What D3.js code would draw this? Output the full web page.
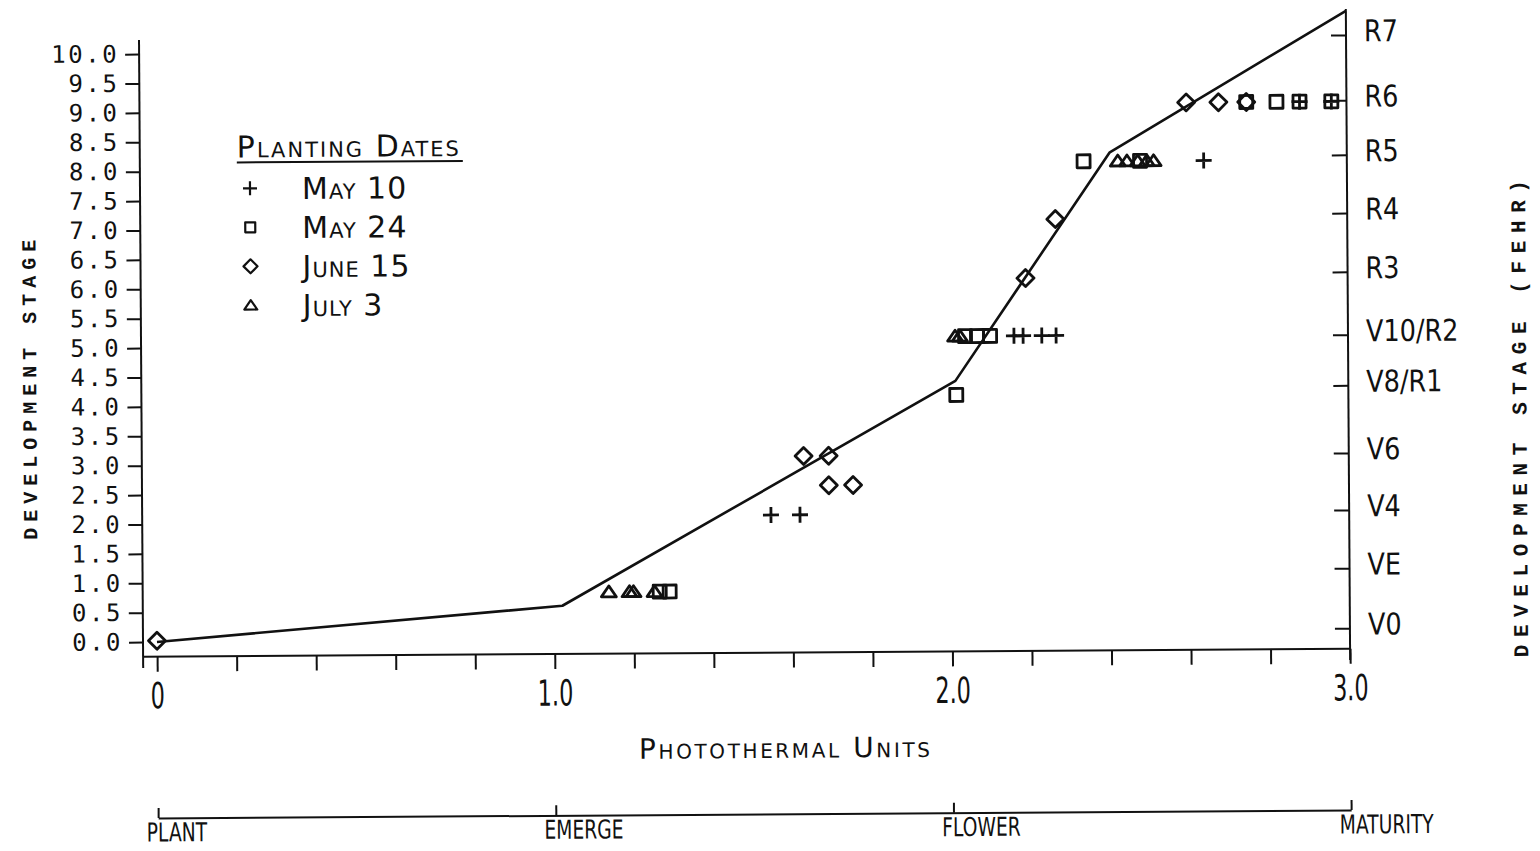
<!DOCTYPE html>
<html>
<head>
<meta charset="utf-8">
<script src="https://cdn.jsdelivr.net/npm/d3@7"></script>
<style>
  html, body { margin: 0; padding: 0; background: #fff; }
  svg { display: block; }
</style>
</head>
<body>
<svg id="chart" width="1540" height="851"></svg>
<script>
// ---- axis ticks and labels ----
const leftTicks = [0, 0.5, 1, 1.5, 2, 2.5, 3, 3.5, 4, 4.5, 5, 5.5, 6, 6.5, 7, 7.5, 8, 8.5, 9, 9.5, 10];
const xMinorTicks = [0, 0.2, 0.4, 0.6, 0.8, 1.0, 1.2, 1.4, 1.6, 1.8, 2.0, 2.2, 2.4, 2.6, 2.8, 3.0];
const xMajorTicks = [0, 1, 2, 3];
const xMajorLabels = ["0", "1.0", "2.0", "3.0"];
const fehrValues = [0.10, 1.12, 2.11, 3.08, 4.23, 5.09, 6.16, 7.16, 8.15, 9.08, 10.19];
const fehrLabels = ["V0", "VE", "V4", "V6", "V8/R1", "V10/R2", "R3", "R4", "R5", "R6", "R7"];
const eventPTU = [0, 1, 2, 3];
const eventNames = ["PLANT", "EMERGE", "FLOWER", "MATURITY"];

// ---- fitted development curve ----
const curvePTU = [0, 1.02, 2.012, 2.404, 3.0];
const curveStage = [0, 0.57, 4.35, 8.22, 10.6];

// ---- observations by planting date ----
const may10PTU   = [1.546, 1.619, 2.16, 2.183, 2.23, 2.266, 2.64, 2.882, 2.962];
const may10Stage = [2.09, 2.09, 5.11, 5.11, 5.11, 5.11, 8.07, 9.06, 9.06];

const may24PTU   = [1.265, 1.29, 2.014, 2.037, 2.067, 2.1, 2.338, 2.48, 2.748, 2.824, 2.882, 2.962];
const may24Stage = [0.8, 0.8, 4.11, 5.11, 5.11, 5.11, 8.07, 8.07, 9.06, 9.06, 9.06, 9.06];

const june15PTU   = [0, 1.629, 1.692, 1.692, 1.753, 2.19, 2.266, 2.597, 2.678, 2.748];
const june15Stage = [0.02, 3.09, 3.09, 2.59, 2.59, 6.09, 7.09, 9.06, 9.06, 9.06];

const july3PTU   = [1.137, 1.189, 1.199, 1.252, 2.012, 2.024, 2.424, 2.447, 2.474, 2.497, 2.514];
const july3Stage = [0.8, 0.8, 0.8, 0.8, 5.11, 5.11, 8.07, 8.07, 8.07, 8.07, 8.07];

const seriesNames = ["May 10", "May 24", "June 15", "July 3"];

// ---- symbol shapes ----
const shapes = {
  plus: s => `M${-s},0H${s}M0,${-s}V${s}`,
  square: s => `M${-s},${-s}H${s}V${s}H${-s}Z`,
  diamond: s => `M0,${-s}L${s},0L0,${s}L${-s},0Z`,
  triangle: s => `M0,${-s * 0.8}L${s},${s * 0.65}L${-s},${s * 0.65}Z`
};
const seriesDefs = [
  { name: seriesNames[0], xs: may10PTU, ys: may10Stage, shape: "plus", size: 8, key: 7 },
  { name: seriesNames[1], xs: may24PTU, ys: may24Stage, shape: "square", size: 6.5, key: 5 },
  { name: seriesNames[2], xs: june15PTU, ys: june15Stage, shape: "diamond", size: 8.5, key: 7 },
  { name: seriesNames[3], xs: july3PTU, ys: july3Stage, shape: "triangle", size: 7.5, key: 6.5 }
];

const svg = d3.select("#chart");
svg.append("rect").attr("width", 1540).attr("height", 851).attr("fill", "#fff");

// the sheet sits very slightly askew
const root = svg.append("g").attr("transform", "rotate(-0.38,150,642)");

const x = d3.scaleLinear().domain([0, 3]).range([157, 1350]);
const y = d3.scaleLinear().domain([0, 10]).range([642, 54]);

const INK = "#111";
const SANS = "'DejaVu Sans', 'Liberation Sans', sans-serif";
const MONO = "'Liberation Mono', 'DejaVu Sans Mono', monospace";

function styleAxis(g) {
  g.selectAll("line").attr("stroke", INK).attr("stroke-width", 2);
  g.selectAll("path.domain").attr("stroke", INK).attr("stroke-width", 2);
}

// ---- left axis (development stage, numeric) ----
const leftX = 143;
const gLeft = root.append("g").attr("transform", `translate(${leftX},0)`)
  .call(d3.axisLeft(y).tickValues(leftTicks).tickFormat(d3.format(".1f")).tickSize(14).tickPadding(6));
gLeft.select("path.domain").remove();
styleAxis(gLeft);
gLeft.selectAll("text")
  .attr("fill", INK)
  .style("font-family", "'DejaVu Sans Mono', 'Liberation Mono', monospace")
  .style("font-size", "24px")
  .style("letter-spacing", "2.5px");
root.append("line").attr("x1", leftX).attr("x2", leftX).attr("y1", 40).attr("y2", 668)
  .attr("stroke", INK).attr("stroke-width", 2);

// ---- bottom axis (photothermal units) ----
const xAxisY = y(-0.25);
const gBottom = root.append("g").attr("transform", `translate(0,${xAxisY})`)
  .call(d3.axisBottom(x).tickValues(xMinorTicks).tickSize(15).tickPadding(11)
    .tickFormat(d => {
      const i = xMajorTicks.findIndex(v => Math.abs(v - d) < 1e-9);
      return i >= 0 ? xMajorLabels[i] : "";
    }));
gBottom.select("path.domain").remove();
styleAxis(gBottom);
gBottom.selectAll("text")
  .attr("fill", INK)
  .attr("transform", "scale(0.62,1)")
  .style("font-family", SANS)
  .style("font-size", "36px");
root.append("line").attr("x1", leftX).attr("x2", x(3)).attr("y1", xAxisY).attr("y2", xAxisY)
  .attr("stroke", INK).attr("stroke-width", 2);

// ---- right axis (Fehr stages) ----
const rightX = x(3);
const rScale = 0.85;
const gRight = root.append("g").attr("transform", `translate(${rightX},0)`)
  .call(d3.axisLeft(y).tickValues(fehrValues).tickSize(15).tickFormat((d, i) => fehrLabels[i]));
gRight.select("path.domain").remove();
styleAxis(gRight);
gRight.selectAll("text")
  .attr("fill", INK)
  .attr("text-anchor", "start")
  .attr("x", 18 / rScale)
  .attr("dy", "0.2em")
  .attr("transform", `scale(${rScale},1)`)
  .style("font-family", SANS)
  .style("font-size", "30px");
root.append("line").attr("x1", rightX).attr("x2", rightX).attr("y1", 17).attr("y2", 668)
  .attr("stroke", INK).attr("stroke-width", 2);

// ---- axis titles ----
root.append("text")
  .attr("transform", "translate(38,386) rotate(-90)")
  .attr("text-anchor", "middle")
  .attr("fill", INK)
  .style("font-family", MONO)
  .style("font-weight", "bold")
  .style("font-size", "20px")
  .style("letter-spacing", "6px")
  .text("DEVELOPMENT STAGE");

root.append("text")
  .attr("transform", "translate(1528,424) rotate(-90)")
  .attr("text-anchor", "middle")
  .attr("fill", INK)
  .style("font-family", MONO)
  .style("font-weight", "bold")
  .style("font-size", "21px")
  .style("letter-spacing", "7.6px")
  .text("DEVELOPMENT STAGE (FEHR)");

root.append("text")
  .attr("x", 785).attr("y", 762)
  .attr("text-anchor", "middle")
  .attr("fill", INK)
  .style("font-family", SANS)
  .style("font-size", "28px")
  .style("font-variant", "small-caps")
  .style("letter-spacing", "2.6px")
  .text("Photothermal Units");

// ---- development curve ----
const curve = curvePTU.map((p, i) => [p, curveStage[i]]);
root.append("path")
  .datum(curve)
  .attr("fill", "none")
  .attr("stroke", INK)
  .attr("stroke-width", 2.6)
  .attr("stroke-linejoin", "round")
  .attr("d", d3.line().x(d => x(d[0])).y(d => y(d[1])));

// ---- observations ----
seriesDefs.forEach(s => {
  const pts = s.xs.map((p, i) => [p, s.ys[i]]);
  root.append("g").selectAll("path")
    .data(pts)
    .join("path")
    .attr("transform", d => `translate(${x(d[0])},${y(d[1])})`)
    .attr("d", shapes[s.shape](s.size))
    .attr("fill", "none")
    .attr("stroke", INK)
    .attr("stroke-width", 2.8)
    .attr("stroke-linejoin", "round");
});

// ---- legend ----
const legend = root.append("g").attr("transform", "translate(240,0)");
legend.append("text")
  .attr("x", 0).attr("y", 158)
  .attr("fill", INK)
  .style("font-family", SANS)
  .style("font-size", "30px")
  .style("font-variant", "small-caps")
  .style("letter-spacing", "2px")
  .text("Planting Dates");
legend.append("line")
  .attr("x1", 0).attr("x2", 226).attr("y1", 163).attr("y2", 163)
  .attr("stroke", INK).attr("stroke-width", 2);
const rowY = d3.scalePoint().domain(seriesNames).range([189, 306]);
seriesDefs.forEach(s => {
  const r = legend.append("g").attr("transform", `translate(0,${rowY(s.name)})`);
  r.append("path")
    .attr("transform", "translate(13,0)")
    .attr("d", shapes[s.shape](s.key))
    .attr("fill", "none")
    .attr("stroke", INK)
    .attr("stroke-width", 2.2)
    .attr("stroke-linejoin", "round");
  r.append("text")
    .attr("x", 65).attr("y", 11)
    .attr("fill", INK)
    .style("font-family", SANS)
    .style("font-size", "30px")
    .style("font-variant", "small-caps")
    .style("letter-spacing", "1px")
    .text(s.name);
});

// ---- crop events scale ----
const evScale = 0.72;
const gEvents = root.append("g").attr("transform", "translate(0,818)")
  .call(d3.axisBottom(x).tickValues(eventPTU).tickSize(-10).tickSizeOuter(0).tickPadding(5)
    .tickFormat((d, i) => eventNames[i]));
styleAxis(gEvents);
gEvents.selectAll("text")
  .attr("fill", INK)
  .attr("text-anchor", "start")
  .attr("x", -12 / evScale)
  .attr("transform", `scale(${evScale},1)`)
  .style("font-family", SANS)
  .style("font-size", "26px");
</script>
</body>
</html>
